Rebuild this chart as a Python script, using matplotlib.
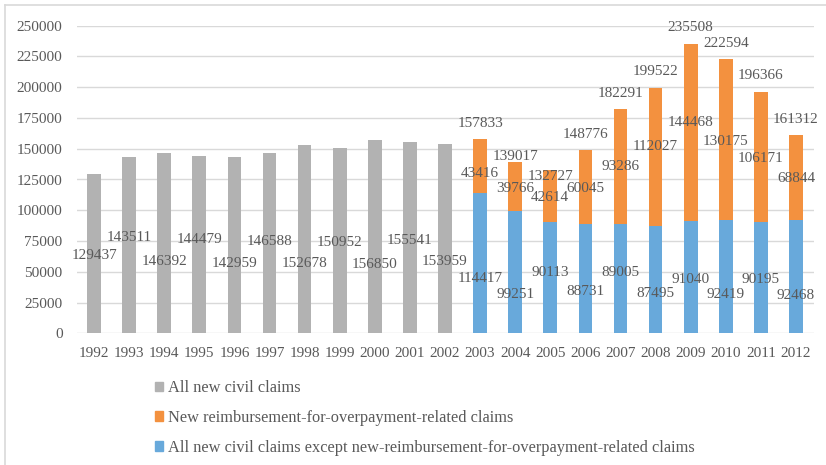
import numpy as np
import matplotlib.pyplot as plt
from matplotlib.patches import Patch
from matplotlib.lines import Line2D

# data
years = [str(y) for y in range(1992, 2013)]
all_claims = [129437, 143511, 146392, 144479, 142959, 146588, 152678, 150952,
              156850, 155541, 153959]          # 1992-2002
except_reimb = [114417, 99251, 90113, 88731, 89005, 87495, 91040, 92419,
                90195, 92468]                  # 2003-2012
reimb = [43416, 39766, 42614, 60045, 93286, 112027, 144468, 130175,
         106171, 68844]                        # 2003-2012

# label nudges (data units) so that the labels sit where the original had them
grey_shift = [-1100, 5900, -14500, 4000, -14600, 1700, -19400, -1600, -22400, -2000, -18800]
blue_shift = [-12500, -17700, 4400, -10600, 5000, -11800, -1400, -14300, -1000, -15900]
orange_shift = [-6100, -1300, -900, -950, 0, 8100, 8100, -1300, -1100, -1000]
total_shift = [12800, 4500, -5400, 12900, 12700, 13500, 13100, 13000, 13400, 12800]

grey_c = '#b2b2b2'
orange_c = '#f3913f'
blue_c = '#68a9db'
text_c = '#595959'
grid_c = '#d9d9d9'

plt.rcParams['font.family'] = ['Liberation Serif', 'DejaVu Serif']
plt.rcParams['font.size'] = 11

fig = plt.figure(figsize=(8.26, 4.65), dpi=100)
ax = fig.add_axes([76.5 / 826, 1 - 333.3 / 465, 737 / 826, 307.6 / 465])

n_grey = len(all_claims)
x = np.arange(len(years))
xg = x[:n_grey]
xs = x[n_grey:]
w = 0.39

blue = np.array(except_reimb)
orange = np.array(reimb)
total = blue + orange

ax.bar(xg, all_claims, w, color=grey_c, zorder=3)
ax.bar(xs, blue, w, color=blue_c, zorder=3)
ax.bar(xs, orange, w, bottom=blue, color=orange_c, zorder=3)

# data labels
for i, v in enumerate(all_claims):
    ax.text(xg[i], v / 2 + grey_shift[i], str(v), ha='center', va='center', color=text_c, zorder=4)
for i in range(len(xs)):
    ax.text(xs[i], blue[i] / 2 + blue_shift[i], str(blue[i]), ha='center', va='center', color=text_c, zorder=4)
    ax.text(xs[i], blue[i] + orange[i] / 2 + orange_shift[i], str(orange[i]), ha='center', va='center', color=text_c, zorder=4)
    ax.text(xs[i], total[i] + total_shift[i], str(total[i]), ha='center', va='center', color=text_c, zorder=4)

ax.set_xlim(-0.5, len(years) - 0.5)
ax.set_ylim(0, 250000)
ax.set_yticks(np.arange(0, 250001, 25000))
ax.set_xticks(x)
ax.set_xticklabels(years)
ax.yaxis.grid(True, color=grid_c, linewidth=1.0, zorder=0)
ax.set_axisbelow(True)
ax.tick_params(axis='both', length=0, colors=text_c)
ax.tick_params(axis='y', pad=10)
ax.tick_params(axis='x', pad=10)
for s in ax.spines.values():
    s.set_visible(False)

# legend, stacked vertically under the plot
handles = [Patch(color=grey_c), Patch(color=orange_c), Patch(color=blue_c)]
labels = ['All new civil claims',
          'New reimbursement-for-overpayment-related claims',
          'All new civil claims except new-reimbursement-for-overpayment-related claims']
fig.legend(handles, labels, loc='upper left', bbox_to_anchor=(155 / 826, 1 - 380 / 465),
           frameon=False, handlelength=0.5, handleheight=0.5, handletextpad=0.3,
           labelspacing=0.85, borderaxespad=0, borderpad=0, labelcolor=text_c,
           fontsize=11.8)

# outer chart border (only top and left edges show)
fig.add_artist(Line2D([4.5 / 826, 1], [1 - 5 / 465, 1 - 5 / 465], color=grid_c, linewidth=1.2))
fig.add_artist(Line2D([4.5 / 826, 4.5 / 826], [0, 1 - 5 / 465], color=grid_c, linewidth=1.2))

fig.savefig('out.png', dpi=100)
